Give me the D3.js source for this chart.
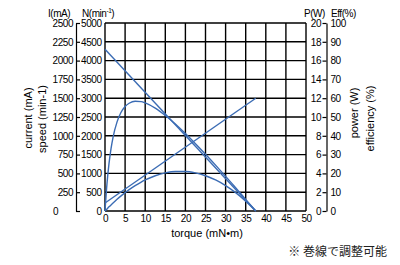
<!DOCTYPE html>
<html lang="ja">
<head>
<meta charset="UTF-8">
<title>motor characteristics</title>
<script src="https://d3js.org/d3.v7.min.js"></script>
<style>
  body { margin: 0; background: #fff; }
  text { font-family: "Liberation Sans", Arial, sans-serif; fill: #000; }
  .num { letter-spacing: -0.45px; }
  .jp { font-family: "Noto Sans CJK JP", sans-serif; }
</style>
</head>
<body>
<svg id="chart" width="400" height="265"></svg>
<script>
    // ticks
    const torqueTicks = [0, 5, 10, 15, 20, 25, 30, 35, 40, 45, 50];
    const currentTicks = [0, 250, 500, 750, 1000, 1250, 1500, 1750, 2000, 2250, 2500];
    const speedTicks = [0, 500, 1000, 1500, 2000, 2500, 3000, 3500, 4000, 4500, 5000];
    const powerTicks = [0, 2, 4, 6, 8, 10, 12, 14, 16, 18, 20];
    const effTicks = [0, 10, 20, 30, 40, 50, 60, 70, 80, 90, 100];

    // readings
    const torque = [0, 0.5, 1, 1.5, 2, 3, 4, 5, 6, 7.5, 9, 10, 12.5, 15, 17.5, 20, 22.5, 25, 27.5, 30, 32.5, 35, 37.5];
    const power = [0, 0.22, 0.44, 0.65, 0.85, 1.24, 1.61, 1.95, 2.27, 2.70, 3.08, 3.30, 3.75, 4.05, 4.20, 4.20, 4.05, 3.75, 3.30, 2.70, 1.95, 1.05, 0];
    const efficiency = [0, 14.7, 25.3, 33.2, 39.2, 47.4, 52.5, 55.6, 57.3, 58.4, 58.2, 57.5, 54.7, 50.8, 46.3, 41.2, 35.8, 30.2, 24.4, 18.4, 12.4, 6.2, 0];
    const speedLine = [[0, 4300], [37.5, 0]];
    const currentLine = [[0, 107], [37.5, 1500]];

    const blue = "#3b6cb4";
    const svg = d3.select("#chart");
    const fmt = d3.format("d");

    const x = d3.scaleLinear().domain([0, 50]).range([105, 306]);
    const yI = d3.scaleLinear().domain([0, 2500]).range([211, 23]);
    const yN = d3.scaleLinear().domain([0, 5000]).range([211, 23]);
    const yP = d3.scaleLinear().domain([0, 20]).range([211, 23]);
    const yE = d3.scaleLinear().domain([0, 100]).range([211, 23]);

    // grid
    const grid = svg.append("g").attr("stroke", "#000").attr("stroke-width", 1.4);
    grid.selectAll(".v").data(torqueTicks).enter().append("line")
        .attr("x1", d => x(d)).attr("x2", d => x(d))
        .attr("y1", yI(2500)).attr("y2", yI(0));
    grid.selectAll(".h").data(currentTicks).enter().append("line")
        .attr("x1", x(0)).attr("x2", x(50))
        .attr("y1", d => yI(d)).attr("y2", d => yI(d));

    function styleAxis(g) {
        g.attr("font-family", null);
        g.selectAll("text").attr("class", "num").attr("font-size", 10).attr("fill", "#000");
        g.selectAll("line").attr("stroke", "#000").attr("stroke-width", 1.2);
        g.select(".domain").attr("stroke", "#000").attr("stroke-width", 1.2);
    }

    // left axes
    const gI = svg.append("g").attr("transform", "translate(76,0)")
        .call(d3.axisLeft(yI).tickValues(currentTicks).tickFormat(fmt).tickSize(0).tickPadding(3));
    gI.select(".domain").remove();
    styleAxis(gI);
    gI.selectAll("text").filter(d => d === 0).attr("text-anchor", "start").attr("x", -23);

    const gN = svg.append("g").attr("transform", "translate(76,0)")
        .call(d3.axisRight(yN).tickValues(speedTicks).tickFormat(fmt).tickSize(4).tickSizeOuter(0));
    styleAxis(gN);
    gN.selectAll("text").attr("text-anchor", "end").attr("x", 25.5);

    // right axes
    const gP = svg.append("g").attr("transform", "translate(326.5,0)")
        .call(d3.axisLeft(yP).tickValues(powerTicks).tickFormat(fmt).tickSize(4).tickSizeOuter(0).tickPadding(1.5));
    styleAxis(gP);

    const gE = svg.append("g").attr("transform", "translate(326.5,0)")
        .call(d3.axisRight(yE).tickValues(effTicks).tickFormat(fmt).tickSize(0).tickPadding(4));
    gE.select(".domain").remove();
    styleAxis(gE);

    // bottom axis
    const gX = svg.append("g").attr("transform", "translate(0,211)")
        .call(d3.axisBottom(x).tickValues(torqueTicks).tickFormat(fmt).tickSize(0).tickPadding(3.5));
    gX.select(".domain").remove();
    styleAxis(gX);

    // curves
    const lineOf = (ys) => d3.line().x(d => x(d[0])).y(d => ys(d[1]));
    const smooth = (ys) => d3.line().x(d => x(d[0])).y(d => ys(d[1])).curve(d3.curveMonotoneX);
    const curves = svg.append("g").attr("fill", "none").attr("stroke", blue).attr("stroke-width", 1.4);
    curves.append("path").attr("d", lineOf(yN)(speedLine));
    curves.append("path").attr("d", lineOf(yI)(currentLine));
    curves.append("path").attr("d", smooth(yP)(torque.map((t, i) => [t, power[i]])));
    curves.append("path").attr("d", smooth(yE)(torque.map((t, i) => [t, efficiency[i]])));

    // unit labels on top
    const units = svg.append("g").attr("font-size", 10).attr("class", "num");
    units.append("text").attr("x", 48).attr("y", 16.5).text("I(mA)");
    const n = units.append("text").attr("x", 82).attr("y", 16.5).text("N(min");
    n.append("tspan").attr("font-size", 6.5).attr("dy", -4).text("-1");
    n.append("tspan").attr("dy", 4).text(")");
    units.append("text").attr("x", 304).attr("y", 16.5).text("P(W)");
    units.append("text").attr("x", 331).attr("y", 16.5).text("Eff(%)");

    // axis titles
    const titles = svg.append("g").attr("font-size", 11);
    titles.append("text").attr("transform", "translate(32,118) rotate(-90)")
        .attr("text-anchor", "middle").text("current (mA)");
    titles.append("text").attr("transform", "translate(46,119) rotate(-90)")
        .attr("text-anchor", "middle").text("speed (min-1)");
    titles.append("text").attr("transform", "translate(358,113) rotate(-90)")
        .attr("text-anchor", "middle").text("power (W)");
    titles.append("text").attr("transform", "translate(374,118.5) rotate(-90)")
        .attr("text-anchor", "middle").text("efficiency (%)");
    titles.append("text").attr("x", 207).attr("y", 237)
        .attr("text-anchor", "middle").text("torque (mN\u2022m)");

    svg.append("text").attr("class", "jp").attr("x", 387).attr("y", 255.5)
        .attr("text-anchor", "end").attr("font-size", 12).style("fill", "#222")
        .text("※ 巻線で調整可能");
</script>
</body>
</html>
